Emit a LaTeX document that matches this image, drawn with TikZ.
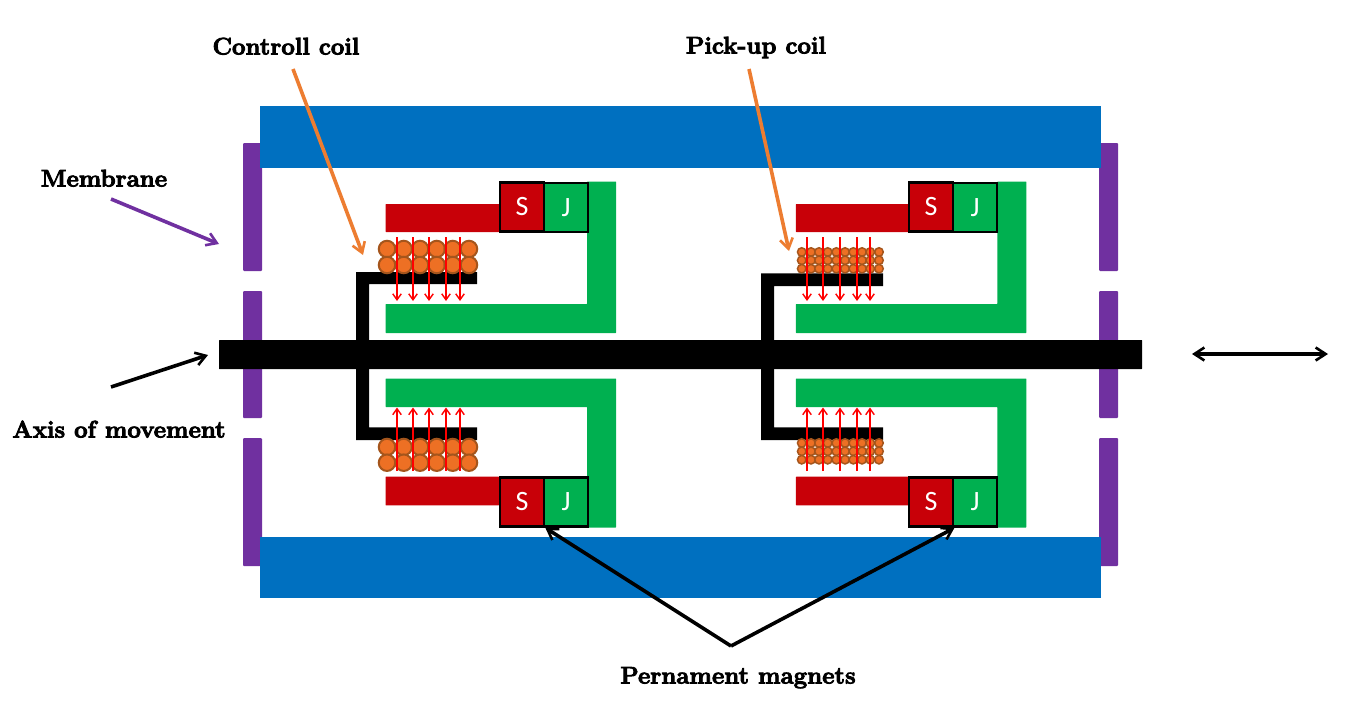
\documentclass[tikz,border=0pt]{standalone}
\usepackage{fontspec}
\newfontfamily\sjfont{Carlito}
\newfontfamily\labfont[BoldFeatures={FakeBold=3.5}]{Latin Modern Roman}
\usetikzlibrary{arrows.meta}
\definecolor{cblue}{HTML}{0070C0}
\definecolor{cpurple}{HTML}{7030A0}
\definecolor{cgreen}{HTML}{00B050}
\definecolor{cred}{HTML}{C80008}
\definecolor{corange}{HTML}{ED7024}
\definecolor{cline}{HTML}{ED7D31}
\definecolor{cedge}{HTML}{A5551C}
\tikzset{
  x=1pt,y=-1pt,
  barbtip/.tip={Straight Barb[length=10pt,width=13pt,line width=2.6pt]},
  barb/.style={-barbtip,line width=3.6pt},
  ray/.style={-{Straight Barb[length=6pt,width=8.5pt]},line width=1.4pt,draw=red},
  lab/.style={font=\labfont\fontsize{24}{28}\selectfont\bfseries,text=black,inner sep=0pt,anchor=base},
  pole/.style={draw=black,line width=2.8pt,minimum width=44pt,minimum height=49pt,inner sep=0pt,text=white,font=\sjfont\fontsize{28}{30}\selectfont},
  bigturn/.style={circle,draw=cedge,line width=2pt,fill=corange,minimum size=16.5pt,inner sep=0pt},
  smallturn/.style={circle,draw=cedge,line width=1.5pt,fill=corange,minimum size=8.5pt,inner sep=0pt},
}
\newcommand{\yokeup}[1]{%
  \fill[cred,rounded corners=.5pt] (#1+385.5,204) rectangle (#1+499,232);
  \fill[cgreen,rounded corners=.5pt] (#1+385.5,304) -- (#1+587,304) -- (#1+587,181.5) -- (#1+616,181.5) -- (#1+616,333) -- (#1+385.5,333) -- cycle;
}
\newcommand{\yokedown}[1]{%
  \fill[cred,rounded corners=.5pt] (#1+385.5,476.7) rectangle (#1+499,505.3);
  \fill[cgreen,rounded corners=.5pt] (#1+385.5,378.5) -- (#1+616,378.5) -- (#1+616,527.5) -- (#1+587,527.5) -- (#1+587,407) -- (#1+385.5,407) -- cycle;
}
\begin{document}
\begin{tikzpicture}
\useasboundingbox (0,0) rectangle (1359,725);
\fill[white] (0,0) rectangle (1359,725);
% membranes
\foreach \xa in {243,1099}{
  \fill[cpurple,rounded corners=1pt] (\xa,143) rectangle (\xa+19,271);
  \fill[cpurple,rounded corners=1pt] (\xa,291) rectangle (\xa+19,418);
  \fill[cpurple,rounded corners=1pt] (\xa,438) rectangle (\xa+19,566);
}
% housing
\fill[cblue] (260,106) rectangle (1101,168);
\fill[cblue] (260,537) rectangle (1101,598);
% yokes
\yokeup{0}
\yokeup{410.3}
\yokedown{0}
\yokedown{410.3}
% coil holders
\fill[black] (356,272) -- (477,272) -- (477,284) -- (369,284) -- (369,427.3) -- (477,427.3) -- (477,440) -- (356,440) -- cycle;
\fill[black] (761,273.3) -- (883,273.3) -- (883,286) -- (774,286) -- (774,427.3) -- (883,427.3) -- (883,440) -- (761,440) -- cycle;
% shaft
\fill[black,rounded corners=.5pt] (219,340) rectangle (1142,369);
% left coils
\foreach \cx in {387,403.7,420,436.7,452.7,469}{
  \foreach \cy in {249,265,447,462.7}{
    \node[bigturn] at (\cx,\cy) {};
  }
}
% right coils
\foreach \cx in {801.7,811,819,827.7,836.3,845,853.3,862,870.3,879}{
  \foreach \cy in {252,260.3,268.7,443,451.3,459.7}{
    \node[smallturn] at (\cx,\cy) {};
  }
}
% field lines
\foreach \rx in {397,413,429,446,460,807,823,840,857,870}{
  \draw[ray] (\rx,237) -- (\rx,301);
  \draw[ray] (\rx,471) -- (\rx,407.5);
}
% magnets
\node[pole,fill=cred] (s1) at (522,207) {S};
\node[pole,fill=cgreen] (j1) at (566,207.5) {J};
\node[pole,fill=cred] (s2) at (931,207) {S};
\node[pole,fill=cgreen] (j2) at (975,207.5) {J};
\node[pole,fill=cred] (s3) at (522,502) {S};
\node[pole,fill=cgreen] (j3) at (566,502) {J};
\node[pole,fill=cred] (s4) at (931,502) {S};
\node[pole,fill=cgreen] (j4) at (975,502) {J};
% leader ends
\coordinate (c1) at (293,69);
\coordinate (c2) at (363,255);
\coordinate (p1) at (749,69);
\coordinate (p2) at (789,251);
\coordinate (m1) at (111,199);
\coordinate (m2) at (219,244);
\coordinate (a1) at (111,387);
\coordinate (a2) at (208,355);
\coordinate (apex) at (731,646);
\coordinate (d1) at (1192,354);
\coordinate (d2) at (1328,354);
\draw[barb,draw=cline] (c1) -- (c2);
\draw[barb,draw=cline] (p1) -- (p2);
\draw[barb,draw=cpurple] (m1) -- (m2);
\draw[barb,draw=black] (a1) -- (a2);
\draw[barb,draw=black] (apex) -- (s3.south east);
\draw[barb,draw=black] (apex) -- (s4.south east);
\draw[barbtip-barbtip,line width=3.6pt,draw=black] (d1) -- (d2);
% labels
\node[lab] (control) at (286,54.5) {Controll coil};
\node[lab] (pickup) at (756,53.5) {Pick-up coil};
\node[lab] (membrane) at (104,186.5) {Membrane};
\node[lab] (axis) at (119,437.5) {Axis of movement};
\node[lab] (magnets) at (738,683.5) {Pernament magnets};
\end{tikzpicture}
\end{document}
